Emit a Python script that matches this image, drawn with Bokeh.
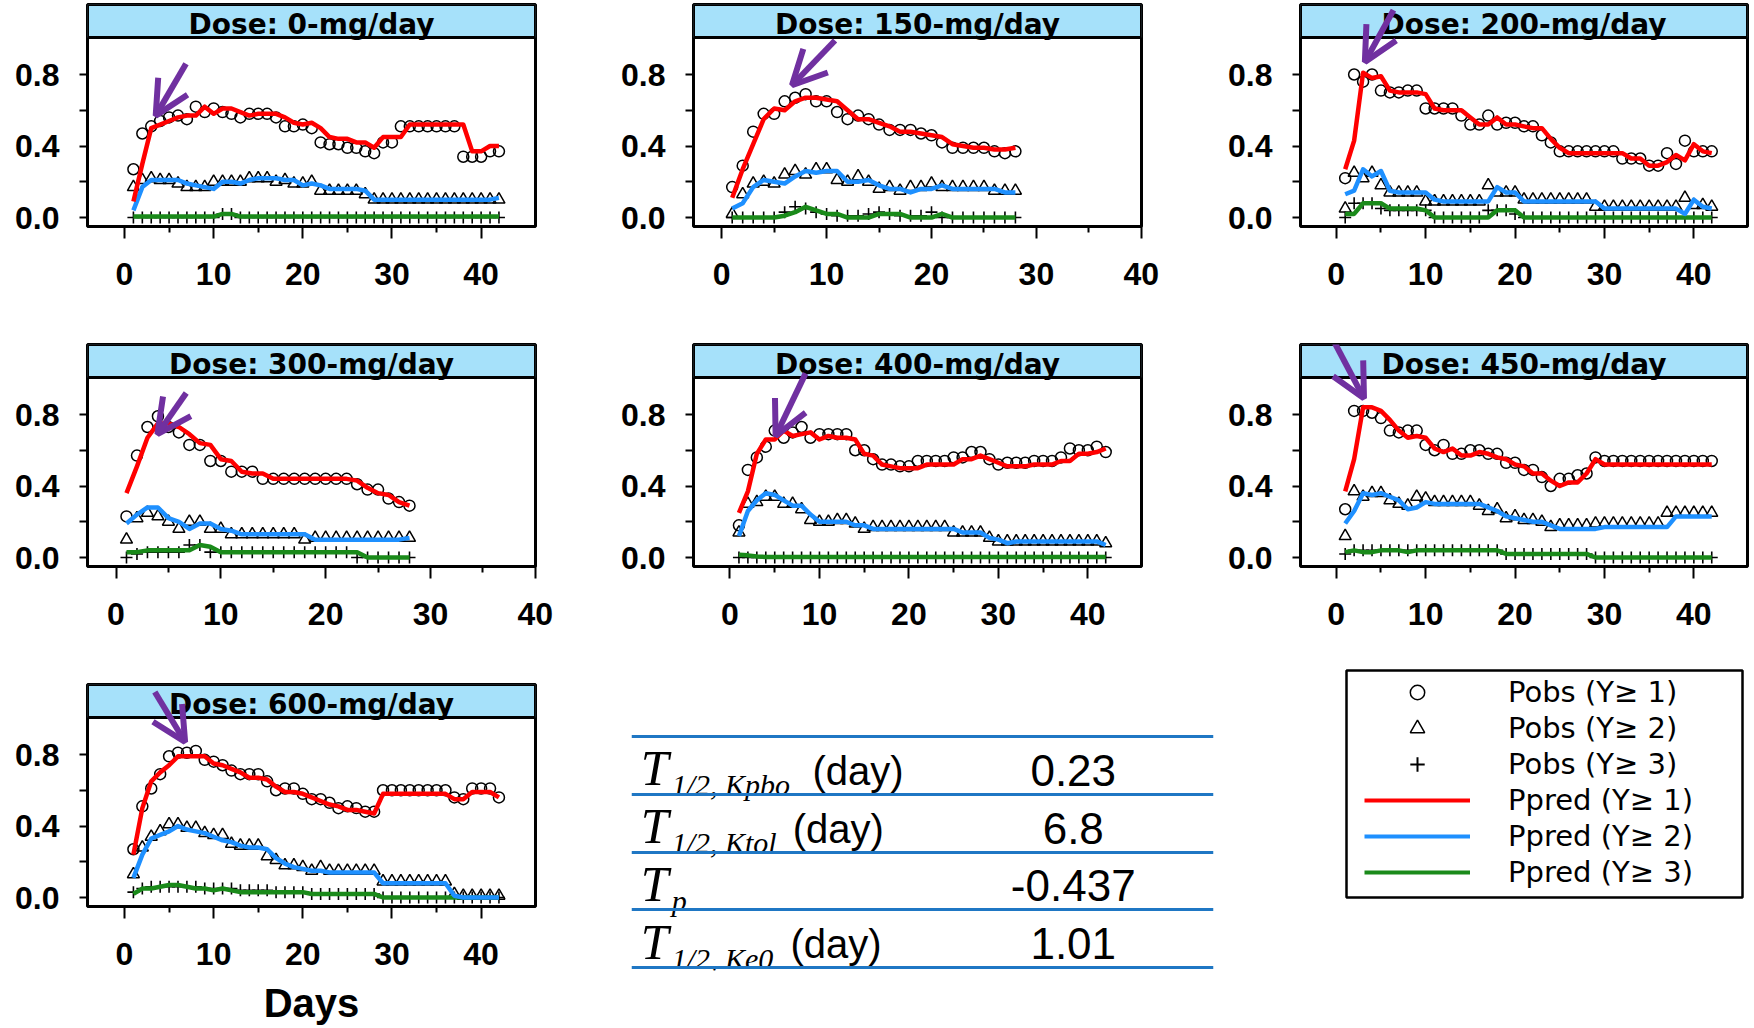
from bokeh.plotting import figure
from bokeh.layouts import row, column
from bokeh.models import (Range1d, FixedTicker, BoxAnnotation, Label, Arrow, OpenHead,
                          Legend, LegendItem, PrintfTickFormatter)
from bokeh.core.properties import value
from bokeh.embed import file_html
from bokeh.resources import INLINE

# ---------------- data ----------------
doses = ["0", "150", "200", "300", "400", "450", "600"]

obs1_0 = [0.27,0.47,0.51,0.54,0.56,0.57,0.55,0.62,0.59,0.61,0.59,0.58,0.56,0.58,0.58,0.58,0.56,0.51,0.51,0.52,0.50,0.42,0.41,0.41,0.39,0.39,0.37,0.36,0.42,0.42,0.51,0.51,0.51,0.51,0.51,0.51,0.51,0.34,0.34,0.34,0.37,0.37]
pred1_0 = [0.09,0.30,0.50,0.52,0.54,0.56,0.57,0.57,0.62,0.58,0.61,0.61,0.59,0.57,0.58,0.58,0.58,0.56,0.53,0.52,0.53,0.50,0.45,0.44,0.44,0.42,0.42,0.39,0.45,0.45,0.45,0.52,0.52,0.52,0.52,0.52,0.52,0.52,0.37,0.37,0.40,0.40]
obs2_0 = [0.17,0.21,0.22,0.21,0.21,0.19,0.17,0.17,0.17,0.20,0.20,0.20,0.20,0.22,0.22,0.22,0.20,0.21,0.19,0.19,0.20,0.15,0.15,0.15,0.15,0.15,0.13,0.10,0.10,0.10,0.10,0.10,0.10,0.10,0.10,0.10,0.10,0.10,0.10,0.10,0.10,0.10]
pred2_0 = [0.04,0.17,0.21,0.21,0.21,0.21,0.19,0.18,0.17,0.16,0.20,0.20,0.19,0.21,0.22,0.22,0.22,0.21,0.21,0.18,0.19,0.18,0.16,0.16,0.16,0.16,0.15,0.10,0.10,0.10,0.10,0.10,0.10,0.10,0.10,0.10,0.10,0.10,0.10,0.10,0.10,0.11]
obs3_0 = [0.0,0.0,0.0,0.0,0.0,0.0,0.0,0.0,0.0,0.0,0.02,0.02,0.0,0.0,0.0,0.0,0.0,0.0,0.0,0.0,0.0,0.0,0.0,0.0,0.0,0.0,0.0,0.0,0.0,0.0,0.0,0.0,0.0,0.0,0.0,0.0,0.0,0.0,0.0,0.0,0.0,0.0]
pred3_0 = [0.005,0.005,0.005,0.005,0.005,0.005,0.005,0.005,0.005,0.005,0.02,0.02,0.005,0.005,0.005,0.005,0.005,0.005,0.005,0.005,0.005,0.005,0.005,0.005,0.005,0.005,0.005,0.005,0.005,0.005,0.005,0.005,0.005,0.005,0.005,0.005,0.005,0.005,0.005,0.005,0.005,0.005]

obs1_150 = [0.17,0.29,0.48,0.58,0.58,0.65,0.67,0.69,0.65,0.65,0.59,0.55,0.57,0.55,0.52,0.49,0.49,0.49,0.47,0.46,0.42,0.39,0.39,0.39,0.39,0.37,0.36,0.37]
pred1_150 = [0.11,0.27,0.41,0.55,0.61,0.60,0.65,0.67,0.67,0.66,0.65,0.60,0.55,0.55,0.53,0.51,0.48,0.48,0.47,0.46,0.45,0.41,0.40,0.39,0.39,0.38,0.38,0.39]
obs2_150 = [0.02,0.13,0.19,0.20,0.19,0.24,0.26,0.24,0.27,0.27,0.21,0.20,0.23,0.20,0.16,0.17,0.15,0.17,0.17,0.19,0.17,0.17,0.17,0.17,0.17,0.15,0.15,0.15]
pred2_150 = [0.05,0.08,0.17,0.21,0.20,0.19,0.23,0.26,0.25,0.26,0.26,0.20,0.20,0.21,0.18,0.16,0.16,0.14,0.16,0.16,0.18,0.16,0.16,0.16,0.16,0.16,0.14,0.14]
obs3_150 = [0.0,0.0,0.0,0.0,0.0,0.03,0.06,0.05,0.03,0.02,0.01,0.01,0.01,0.02,0.03,0.02,0.01,0.01,0.01,0.03,0.0,0.0,0.0,0.0,0.0,0.0,0.0,0.0]
pred3_150 = [0.0,0.0,0.0,0.0,0.0,0.01,0.03,0.06,0.04,0.02,0.02,0.0,0.0,0.0,0.02,0.02,0.02,0.0,0.0,0.0,0.02,0.0,0.0,0.0,0.0,0.0,0.0,0.0]

obs1_200 = [0.22,0.80,0.76,0.80,0.71,0.70,0.70,0.71,0.71,0.61,0.61,0.61,0.61,0.57,0.52,0.52,0.57,0.52,0.53,0.53,0.51,0.51,0.46,0.42,0.37,0.37,0.37,0.37,0.37,0.37,0.37,0.33,0.33,0.33,0.29,0.29,0.36,0.30,0.43,0.37,0.37,0.37]
pred1_200 = [0.27,0.43,0.81,0.78,0.79,0.71,0.70,0.70,0.70,0.69,0.61,0.60,0.60,0.60,0.56,0.52,0.52,0.56,0.52,0.52,0.51,0.50,0.50,0.44,0.39,0.36,0.36,0.36,0.36,0.36,0.36,0.36,0.33,0.33,0.29,0.29,0.31,0.35,0.32,0.41,0.37,0.36]
obs2_200 = [0.05,0.25,0.22,0.25,0.18,0.14,0.14,0.14,0.14,0.09,0.09,0.09,0.09,0.09,0.09,0.09,0.18,0.14,0.14,0.14,0.10,0.10,0.10,0.10,0.10,0.10,0.10,0.10,0.06,0.06,0.06,0.06,0.06,0.06,0.06,0.06,0.06,0.06,0.11,0.07,0.07,0.06]
pred2_200 = [0.13,0.15,0.27,0.23,0.26,0.15,0.14,0.14,0.14,0.14,0.10,0.09,0.09,0.09,0.09,0.09,0.09,0.17,0.14,0.14,0.09,0.09,0.09,0.09,0.09,0.09,0.09,0.09,0.09,0.05,0.05,0.05,0.05,0.05,0.05,0.05,0.05,0.05,0.02,0.10,0.06,0.05]
obs3_200 = [0.0,0.08,0.08,0.08,0.05,0.04,0.04,0.04,0.04,0.04,0.0,0.0,0.0,0.0,0.0,0.0,0.04,0.04,0.04,0.02,0.0,0.0,0.0,0.0,0.0,0.0,0.0,0.0,0.0,0.0,0.0,0.0,0.0,0.0,0.0,0.0,0.0,0.0,0.0,0.0,0.0,0.0]
pred3_200 = [0.02,0.02,0.08,0.08,0.08,0.05,0.05,0.05,0.05,0.04,0.0,0.0,0.0,0.0,0.0,0.0,0.0,0.04,0.04,0.04,0.0,0.0,0.0,0.0,0.0,0.0,0.0,0.0,0.0,0.0,0.0,0.0,0.0,0.0,0.0,0.0,0.0,0.0,0.0,0.0,0.0,0.0]

obs1_300 = [0.23,0.57,0.73,0.79,0.73,0.70,0.63,0.63,0.54,0.54,0.48,0.48,0.48,0.44,0.44,0.44,0.44,0.44,0.44,0.44,0.44,0.44,0.41,0.38,0.38,0.33,0.31,0.29]
pred1_300 = [0.36,0.51,0.67,0.75,0.75,0.73,0.69,0.64,0.63,0.55,0.54,0.48,0.47,0.47,0.44,0.44,0.44,0.44,0.44,0.44,0.44,0.44,0.43,0.39,0.36,0.35,0.31,0.29]
obs2_300 = [0.10,0.22,0.25,0.23,0.20,0.16,0.20,0.20,0.16,0.16,0.13,0.13,0.13,0.13,0.13,0.13,0.13,0.10,0.11,0.11,0.11,0.11,0.11,0.11,0.11,0.11,0.11,0.11]
pred2_300 = [0.19,0.24,0.28,0.28,0.22,0.20,0.16,0.19,0.19,0.16,0.15,0.13,0.13,0.13,0.13,0.13,0.13,0.13,0.10,0.10,0.10,0.10,0.10,0.10,0.10,0.10,0.10,0.11]
obs3_300 = [0.0,0.02,0.03,0.03,0.03,0.03,0.07,0.07,0.03,0.03,0.03,0.03,0.03,0.03,0.03,0.03,0.03,0.03,0.03,0.03,0.03,0.03,0.0,0.0,0.0,0.0,0.0,0.0]
pred3_300 = [0.03,0.03,0.04,0.04,0.04,0.04,0.04,0.07,0.06,0.03,0.03,0.03,0.03,0.03,0.03,0.03,0.03,0.03,0.03,0.03,0.03,0.03,0.03,0.0,0.0,0.0,0.0,0.0]

obs1_400 = [0.18,0.49,0.56,0.62,0.71,0.67,0.70,0.73,0.67,0.69,0.69,0.69,0.69,0.60,0.60,0.55,0.52,0.52,0.51,0.51,0.54,0.54,0.54,0.54,0.56,0.56,0.59,0.59,0.55,0.52,0.53,0.53,0.53,0.54,0.54,0.54,0.56,0.61,0.60,0.60,0.62,0.59]
pred1_400 = [0.25,0.37,0.58,0.66,0.66,0.71,0.68,0.69,0.70,0.66,0.68,0.67,0.67,0.66,0.58,0.57,0.52,0.51,0.50,0.50,0.50,0.52,0.52,0.52,0.52,0.55,0.55,0.57,0.55,0.53,0.51,0.51,0.51,0.52,0.52,0.52,0.54,0.54,0.58,0.58,0.59,0.61]
obs2_400 = [0.14,0.30,0.31,0.34,0.34,0.30,0.30,0.27,0.21,0.20,0.20,0.21,0.21,0.19,0.16,0.17,0.17,0.17,0.17,0.17,0.17,0.17,0.17,0.17,0.14,0.14,0.14,0.14,0.11,0.09,0.09,0.09,0.09,0.09,0.09,0.09,0.09,0.09,0.09,0.09,0.09,0.08]
pred2_400 = [0.12,0.26,0.32,0.36,0.35,0.32,0.29,0.29,0.24,0.20,0.20,0.20,0.20,0.18,0.18,0.16,0.16,0.16,0.16,0.16,0.16,0.16,0.16,0.16,0.16,0.14,0.14,0.14,0.11,0.10,0.08,0.09,0.09,0.09,0.09,0.09,0.09,0.09,0.09,0.09,0.09,0.07]
obs3_400 = [0.0,0.0,0.0,0.0,0.0,0.0,0.0,0.0,0.0,0.0,0.0,0.0,0.0,0.0,0.0,0.0,0.0,0.0,0.0,0.0,0.0,0.0,0.0,0.0,0.0,0.0,0.0,0.0,0.0,0.0,0.0,0.0,0.0,0.0,0.0,0.0,0.0,0.0,0.0,0.0,0.0,0.0]
pred3_400 = [0.015,0.012,0.006,0.003,0.003,0.003,0.003,0.003,0.003,0.003,0.003,0.003,0.003,0.003,0.003,0.003,0.003,0.003,0.003,0.003,0.003,0.003,0.003,0.003,0.003,0.003,0.003,0.003,0.003,0.003,0.003,0.003,0.003,0.003,0.003,0.003,0.003,0.003,0.003,0.003,0.003,0.003]

obs1_450 = [0.27,0.82,0.82,0.81,0.78,0.71,0.70,0.71,0.71,0.63,0.60,0.63,0.58,0.58,0.60,0.60,0.58,0.58,0.53,0.53,0.49,0.49,0.45,0.40,0.44,0.44,0.46,0.47,0.56,0.54,0.54,0.54,0.54,0.54,0.54,0.54,0.54,0.54,0.54,0.54,0.54,0.54]
pred1_450 = [0.37,0.55,0.84,0.84,0.82,0.77,0.71,0.67,0.68,0.67,0.61,0.59,0.61,0.57,0.57,0.59,0.58,0.56,0.55,0.52,0.51,0.47,0.47,0.43,0.40,0.42,0.42,0.47,0.55,0.52,0.52,0.52,0.52,0.52,0.52,0.52,0.52,0.52,0.52,0.52,0.52,0.52]
obs2_450 = [0.12,0.37,0.34,0.36,0.36,0.32,0.30,0.29,0.34,0.33,0.31,0.31,0.31,0.31,0.31,0.29,0.26,0.27,0.22,0.23,0.21,0.21,0.20,0.17,0.18,0.18,0.18,0.18,0.19,0.19,0.19,0.19,0.19,0.19,0.19,0.19,0.25,0.25,0.25,0.25,0.25,0.25]
pred2_450 = [0.19,0.26,0.36,0.35,0.36,0.34,0.32,0.27,0.28,0.31,0.30,0.30,0.30,0.30,0.30,0.30,0.28,0.26,0.23,0.22,0.21,0.20,0.20,0.18,0.16,0.16,0.16,0.16,0.16,0.17,0.17,0.17,0.17,0.17,0.17,0.17,0.17,0.23,0.23,0.23,0.23,0.23]
obs3_450 = [0.02,0.04,0.04,0.04,0.04,0.04,0.04,0.04,0.04,0.04,0.04,0.04,0.04,0.04,0.04,0.04,0.04,0.04,0.02,0.02,0.02,0.02,0.02,0.02,0.02,0.02,0.02,0.02,0.0,0.0,0.0,0.0,0.0,0.0,0.0,0.0,0.0,0.0,0.0,0.0,0.0,0.0]
pred3_450 = [0.03,0.04,0.03,0.03,0.04,0.04,0.04,0.03,0.04,0.04,0.04,0.04,0.04,0.04,0.04,0.04,0.04,0.04,0.02,0.02,0.02,0.02,0.02,0.02,0.02,0.02,0.02,0.02,0.0,0.0,0.0,0.0,0.0,0.0,0.0,0.0,0.0,0.0,0.0,0.0,0.0,0.0]

obs1_600 = [0.27,0.51,0.61,0.69,0.79,0.81,0.81,0.82,0.77,0.76,0.74,0.71,0.69,0.69,0.69,0.65,0.60,0.61,0.61,0.58,0.55,0.55,0.53,0.50,0.51,0.50,0.48,0.48,0.60,0.60,0.60,0.60,0.60,0.60,0.60,0.60,0.56,0.55,0.61,0.61,0.61,0.56]
pred1_600 = [0.24,0.50,0.65,0.70,0.74,0.79,0.79,0.79,0.79,0.75,0.74,0.72,0.70,0.67,0.67,0.66,0.62,0.59,0.59,0.58,0.56,0.54,0.52,0.51,0.49,0.49,0.48,0.47,0.58,0.58,0.58,0.58,0.58,0.58,0.58,0.58,0.55,0.55,0.59,0.59,0.59,0.56]
obs2_600 = [0.13,0.28,0.34,0.37,0.41,0.41,0.39,0.39,0.36,0.35,0.35,0.30,0.29,0.29,0.29,0.23,0.21,0.18,0.18,0.17,0.15,0.17,0.15,0.15,0.15,0.15,0.15,0.15,0.09,0.09,0.09,0.09,0.09,0.09,0.09,0.09,0.02,0.01,0.01,0.01,0.01,0.01]
pred2_600 = [0.11,0.24,0.33,0.35,0.37,0.40,0.38,0.37,0.36,0.34,0.32,0.31,0.29,0.28,0.28,0.27,0.22,0.19,0.17,0.16,0.15,0.15,0.14,0.14,0.14,0.14,0.14,0.14,0.08,0.08,0.08,0.08,0.08,0.08,0.08,0.08,0.01,0.0,0.0,0.0,0.0,0.0]
obs3_600 = [0.03,0.05,0.06,0.06,0.06,0.06,0.06,0.06,0.05,0.05,0.05,0.05,0.04,0.04,0.04,0.04,0.03,0.03,0.03,0.03,0.02,0.02,0.02,0.02,0.02,0.02,0.02,0.02,0.0,0.0,0.0,0.0,0.0,0.0,0.0,0.0,0.0,0.0,0.0,0.0,0.0,0.0]
pred3_600 = [0.02,0.05,0.05,0.06,0.07,0.07,0.06,0.05,0.05,0.04,0.05,0.04,0.03,0.03,0.03,0.03,0.03,0.03,0.03,0.03,0.02,0.02,0.02,0.02,0.02,0.02,0.02,0.02,0.0,0.0,0.0,0.0,0.0,0.0,0.0,0.0,0.0,0.0,0.0,0.0,0.0,0.0]

x_ticks = [0, 10, 20, 30, 40]
x_minor_ticks = [5, 15, 25, 35]
y_ticks = [0.0, 0.4, 0.8]
y_minor_ticks = [0.2, 0.6]

series_labels = ["Pobs (Y\u2265 1)", "Pobs (Y\u2265 2)", "Pobs (Y\u2265 3)",
                 "Ppred (Y\u2265 1)", "Ppred (Y\u2265 2)", "Ppred (Y\u2265 3)"]

param_symbol = ["T", "T", "T", "T"]
param_subscript = ["1/2, Kpbo", "1/2, Ktol", "p", "1/2, Ke0"]
param_unit = ["(day)", "(day)", "", "(day)"]
param_value = ["0.23", "6.8", "-0.437", "1.01"]

# ---------------- styling / layout ----------------
RED = "#FF0000"
BLUE = "#1E90FF"
GREEN = "#1A8A1A"
PURPLE = "#7030A0"
STRIP = "#A6E1FA"
TABLE_LINE = "#1F77C4"

Y0, Y1 = -0.0503, 1.1916
STRIP_BOTTOM = 1.007
STRIP_TEXT_Y = 1.082

# column geometry for rows 1-2: (figure width, left border, frame width)
col_geom = [(600, 87, 448), (600, 93, 448), (554, 100, 447)]
row_h = [340, 320, 368]
row_top = [4, 4, 24]
FRAME_H = 222

panel_xrange = {
    "0": (-4.15, 46.1), "150": (-2.69, 40.02), "200": (-4.0, 46.0),
    "300": (-2.72, 40.02), "400": (-4.08, 46.0), "450": (-4.0, 46.0),
    "600": (-4.15, 46.1),
}
# arrow annotation (tail x, tail y, tip x, tip y) in data units
panel_arrow = {
    "0": (6.9, 0.86, 3.5, 0.57), "150": (10.8, 0.99, 6.7, 0.74),
    "200": (6.4, 1.16, 3.2, 0.87), "300": (6.7, 0.92, 3.95, 0.69),
    "400": (8.45, 1.03, 5.1, 0.68), "450": (-0.16, 1.20, 3.1, 0.89),
    "600": (3.4, 1.15, 6.8, 0.87),
}

series = {
    "0": (obs1_0, obs2_0, obs3_0, pred1_0, pred2_0, pred3_0),
    "150": (obs1_150, obs2_150, obs3_150, pred1_150, pred2_150, pred3_150),
    "200": (obs1_200, obs2_200, obs3_200, pred1_200, pred2_200, pred3_200),
    "300": (obs1_300, obs2_300, obs3_300, pred1_300, pred2_300, pred3_300),
    "400": (obs1_400, obs2_400, obs3_400, pred1_400, pred2_400, pred3_400),
    "450": (obs1_450, obs2_450, obs3_450, pred1_450, pred2_450, pred3_450),
    "600": (obs1_600, obs2_600, obs3_600, pred1_600, pred2_600, pred3_600),
}
grid_pos = {"0": (0, 0), "150": (0, 1), "200": (0, 2), "300": (1, 0),
            "400": (1, 1), "450": (1, 2), "600": (2, 0)}


def base_fig(w, h, left, frame_w, top, frame_h, **kw):
    p = figure(width=w, height=h, min_border_left=left,
               min_border_right=w - left - frame_w, min_border_top=top,
               min_border_bottom=h - top - frame_h, frame_align=False,
               output_backend="svg", toolbar_location=None, title=None, **kw)
    p.background_fill_color = "white"
    p.border_fill_color = "white"
    p.xgrid.visible = False
    p.ygrid.visible = False
    return p


def style_axis(ax, tick_out, minor_out, standoff):
    ax.axis_line_color = None
    ax.major_tick_in = 0
    ax.major_tick_out = tick_out
    ax.minor_tick_in = 0
    ax.minor_tick_out = minor_out
    ax.major_tick_line_width = 2
    ax.minor_tick_line_width = 2
    ax.major_tick_line_color = "black"
    ax.minor_tick_line_color = "black"
    ax.major_label_standoff = standoff
    ax.major_label_text_font = "Liberation Sans"
    ax.major_label_text_font_style = "bold"
    ax.major_label_text_font_size = "32px"
    ax.major_label_text_color = "black"


def make_panel(dose):
    r, c = grid_pos[dose]
    w, left, fw = col_geom[c]
    o1, o2, o3, p1, p2, p3 = series[dose]
    days = list(range(1, len(o1) + 1))
    xr = panel_xrange[dose]
    p = base_fig(w, row_h[r], left, fw, row_top[r], FRAME_H,
                 x_range=Range1d(*xr), y_range=Range1d(Y0, Y1))
    p.outline_line_color = "black"
    p.outline_line_width = 3

    xa = p.xaxis[0]
    xa.ticker = FixedTicker(ticks=x_ticks, minor_ticks=x_minor_ticks)
    style_axis(xa, 12, 6, 24)
    ya = p.yaxis[0]
    ya.ticker = FixedTicker(ticks=y_ticks, minor_ticks=y_minor_ticks)
    ya.formatter = PrintfTickFormatter(format="%.1f")
    style_axis(ya, 8, 8, 20)

    if dose == "600":
        xa.axis_label = "Days"
        xa.axis_label_text_font = "Liberation Sans"
        xa.axis_label_text_font_style = "bold"
        xa.axis_label_text_font_size = "40px"
        xa.axis_label_text_color = "black"
        xa.axis_label_standoff = 13

    # observed proportions
    p.scatter(days, o1, marker="circle", size=11, fill_color=None,
              line_color="black", line_width=1.5)
    p.scatter(days, o2, marker="triangle", size=12, fill_color=None,
              line_color="black", line_width=1.5)
    p.scatter(days, o3, marker="cross", size=12,
              line_color="black", line_width=1.6)
    # predicted proportions
    p.line(days, p3, line_color=GREEN, line_width=4.5, line_join="round")
    p.line(days, p2, line_color=BLUE, line_width=4.5, line_join="round")
    p.line(days, p1, line_color=RED, line_width=4.5, line_join="round")

    # strip with the dose
    p.add_layout(BoxAnnotation(bottom=STRIP_BOTTOM, fill_color=STRIP, fill_alpha=1.0,
                               line_color="black", line_width=3, line_alpha=1.0))
    p.add_layout(Label(x=(xr[0] + xr[1]) / 2, y=STRIP_TEXT_Y,
                       text="Dose: %s-mg/day" % dose, text_align="center",
                       text_baseline="alphabetic", text_font="DejaVu Sans",
                       text_font_style="bold", text_font_size="28px",
                       text_color="black"))
    xs, ys, xe, ye = panel_arrow[dose]
    p.add_layout(Arrow(x_start=xs, y_start=ys, x_end=xe, y_end=ye,
                       line_color=PURPLE, line_width=6,
                       end=OpenHead(size=34, line_color=PURPLE, line_width=6)))
    return p


panels = {d: make_panel(d) for d in doses}

# ---------------- parameter table ----------------
ft = base_fig(700, row_h[2], 31, 582, 73, 237, x_range=Range1d(0, 1),
              y_range=Range1d(-0.05, 4.05), x_axis_type=None, y_axis_type=None)
ft.outline_line_color = None

n_rows = len(param_value)
row_base = [n_rows - 1 - i for i in range(n_rows)]
sym_x = 0.016
sub_x = 0.069
unit_x = [0.311, 0.277, 0.0, 0.273]
val_x = 0.759
ft.text(x=[sym_x] * n_rows, y=[b + 0.45 for b in row_base], text=param_symbol,
        text_font=value("Liberation Serif"), text_font_style="italic",
        text_font_size="50px", text_baseline="alphabetic", text_color="black")
ft.text(x=[sub_x] * n_rows, y=[b + 0.16 for b in row_base], text=param_subscript,
        text_font=value("Liberation Serif"), text_font_style="italic",
        text_font_size="30px", text_baseline="alphabetic", text_color="black")
ft.text(x=unit_x, y=[b + 0.40 for b in row_base], text=param_unit,
        text_font=value("Liberation Sans"), text_font_size="40px",
        text_baseline="alphabetic", text_color="black")
ft.text(x=[val_x] * n_rows, y=[b + 0.415 for b in row_base], text=param_value,
        text_font=value("Liberation Sans"), text_font_size="44px",
        text_baseline="alphabetic", text_align="center", text_color="black")
ft.hspan(y=list(range(n_rows + 1)), line_color=TABLE_LINE, line_width=3)

# ---------------- legend ----------------
fl = base_fig(454, row_h[2], 46, 396, 10, 227, x_range=Range1d(0, 1),
              y_range=Range1d(0, 1), x_axis_type=None, y_axis_type=None)
fl.outline_line_color = "black"
fl.outline_line_width = 2.5
nan = float("nan")
lr = [
    fl.scatter([nan], [nan], marker="circle", size=10, fill_color=None, line_color="black", line_width=1.5),
    fl.scatter([nan], [nan], marker="triangle", size=10, fill_color=None, line_color="black", line_width=1.5),
    fl.scatter([nan], [nan], marker="cross", size=10, line_color="black", line_width=2),
    fl.line([nan], [nan], line_color=RED, line_width=4),
    fl.line([nan], [nan], line_color=BLUE, line_width=4),
    fl.line([nan], [nan], line_color=GREEN, line_width=4),
]
legend = Legend(items=[LegendItem(label=lab, renderers=[rr]) for lab, rr in zip(series_labels, lr)],
                location=(18, 7), orientation="vertical", glyph_width=106, glyph_height=36,
                label_height=36, spacing=0, padding=0, margin=0, label_standoff=38,
                label_text_font="DejaVu Sans", label_text_font_size="29px",
                label_text_color="black", border_line_color=None,
                background_fill_alpha=0)
fl.add_layout(legend)

layout = column(
    row(panels["0"], panels["150"], panels["200"]),
    row(panels["300"], panels["400"], panels["450"]),
    row(panels["600"], ft, fl),
)

open("out.html", "w").write(file_html(layout, INLINE))
